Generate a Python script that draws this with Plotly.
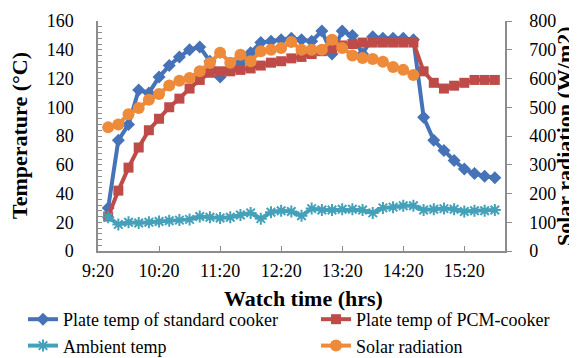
import plotly.graph_objects as go

# ---- data ----
times = ["9:30", "9:40", "9:50", "10:00", "10:10", "10:20", "10:30", "10:40", "10:50",
         "11:00", "11:10", "11:20", "11:30", "11:40", "11:50", "12:00", "12:10", "12:20",
         "12:30", "12:40", "12:50", "13:00", "13:10", "13:20", "13:30", "13:40", "13:50",
         "14:00", "14:10", "14:20", "14:30", "14:40", "14:50", "15:00", "15:10", "15:20",
         "15:30", "15:40", "15:50"]

standard_cooker = [30, 77, 88, 112, 110, 121, 129, 135, 140, 142, 132, 121, 127, 131, 138,
                   145, 146, 147, 148, 147, 146, 153, 137, 153, 150, 137, 149, 148, 148, 148,
                   147, 93, 77, 70, 63, 57, 54, 52, 51]

pcm_cooker = [24, 42, 58, 72, 84, 92, 100, 106, 113, 119, 124, 125, 125, 126, 127, 129, 131,
              132, 134, 135, 137, 139, 141, 143, 144, 145, 145, 145, 145, 145, 145, 125, 117,
              113, 115, 117, 119, 119, 119]

ambient = [23.5, 18.5, 20, 19.5, 20, 20.5, 21, 21.5, 22, 24, 23.5, 23, 23.5, 25, 26.5, 22.5,
           27, 28, 27.5, 24.5, 29.5, 28.5, 28.5, 29, 29, 28.5, 26.5, 30, 30.5, 31.5, 31.5,
           28.5, 29, 29.5, 29, 27.5, 28, 28, 28.5]

solar = [430, 440, 476, 497, 526, 546, 576, 592, 602, 625, 654, 690, 655, 683, 660, 695, 700,
         706, 727, 700, 700, 700, 735, 706, 680, 671, 668, 658, 640, 630, 612]

tick_labels = ["9:20", "10:20", "11:20", "12:20", "13:20", "14:20", "15:20"]


def to_min(s):
    h, m = s.split(":")
    return int(h) * 60 + int(m)


x_all = [to_min(t) for t in times]
x_solar = x_all[:len(solar)]
tick_vals = [to_min(t) for t in tick_labels]

FONT = "Liberation Serif, Times New Roman, serif"
BLUE = "#4672B8"
RED = "#BE4B48"
TEAL = "#45A0B9"
ORANGE = "#EE8B3B"
AXIS = "#8C8C8C"

fig = go.Figure()
fig.add_trace(go.Scatter(x=x_all, y=standard_cooker, name="Plate temp of standard cooker",
                         mode="lines+markers", line=dict(color=BLUE, width=4),
                         marker=dict(symbol="diamond", size=10, color=BLUE),
                         legend="legend", legendrank=1))
fig.add_trace(go.Scatter(x=x_all, y=pcm_cooker, name="Plate temp of PCM-cooker",
                         mode="lines+markers", line=dict(color=RED, width=4),
                         marker=dict(symbol="square", size=10, color=RED),
                         legend="legend2", legendrank=1))
fig.add_trace(go.Scatter(x=x_all, y=ambient, name="Ambient temp",
                         mode="lines+markers", line=dict(color=TEAL, width=4),
                         marker=dict(symbol="asterisk-open", size=10, color=TEAL,
                                     line=dict(color=TEAL, width=2)),
                         legend="legend", legendrank=2))
fig.add_trace(go.Scatter(x=x_solar, y=solar, name="Solar radiation", yaxis="y2",
                         mode="lines+markers", line=dict(color=ORANGE, width=4),
                         marker=dict(symbol="circle", size=12, color=ORANGE),
                         legend="legend2", legendrank=2))

leg_common = dict(orientation="v", yanchor="top", xanchor="left", y=(243 - 293) / 230,
                  font=dict(family=FONT, size=18, color="black"),
                  bgcolor="rgba(0,0,0,0)", tracegroupgap=0, traceorder="normal")

fig.update_layout(
    width=577, height=358,
    margin=dict(l=90, r=80, t=13, b=115, autoexpand=False),
    paper_bgcolor="white", plot_bgcolor="white",
    font=dict(family=FONT, size=18, color="black"),
    showlegend=True,
    legend=dict(x=(15 - 90) / 407, **leg_common),
    legend2=dict(x=(308 - 90) / 407, **leg_common),
    xaxis=dict(range=[560, 960], tickvals=tick_vals, ticktext=tick_labels,
               showgrid=False, zeroline=False, showline=True, linecolor=AXIS, linewidth=1.5,
               ticks="inside", ticklen=5, tickcolor=AXIS, tickwidth=1,
               ticklabelstandoff=3, tickfont=dict(family=FONT, size=18)),
    yaxis=dict(range=[0, 160], dtick=20, showgrid=False, zeroline=False, showline=True,
               linecolor=AXIS, linewidth=1.5, ticks="inside", ticklen=4, tickcolor=AXIS,
               minor=dict(dtick=4, ticks="inside", ticklen=4, tickcolor=AXIS, showgrid=False),
               ticklabelstandoff=19, tickfont=dict(family=FONT, size=18)),
    yaxis2=dict(range=[0, 800], dtick=100, overlaying="y", side="right", showgrid=False,
                zeroline=False, showline=True, linecolor=AXIS, linewidth=1.5,
                ticks="outside", ticklen=5, tickcolor=AXIS,
                ticklabelstandoff=14, tickfont=dict(family=FONT, size=18)),
    annotations=[
        dict(text="<b>Temperature (°C)</b>", xref="paper", yref="paper",
             x=(11 - 90) / 407, y=0.5, textangle=-90, showarrow=False,
             font=dict(family=FONT, size=22), xanchor="center", yanchor="middle"),
        dict(text="<b>Solar radiation (W/m2)</b>", xref="paper", yref="paper",
             x=(556 - 90) / 407, y=0.5, textangle=-90, showarrow=False,
             font=dict(family=FONT, size=22), xanchor="center", yanchor="middle"),
        dict(text="<b>Watch time (hrs)</b>", xref="paper", yref="paper",
             x=(295 - 90) / 407, y=(243 - 290) / 230, showarrow=False,
             font=dict(family=FONT, size=22), xanchor="center", yanchor="middle"),
    ],
)

fig.write_html("out.html")
